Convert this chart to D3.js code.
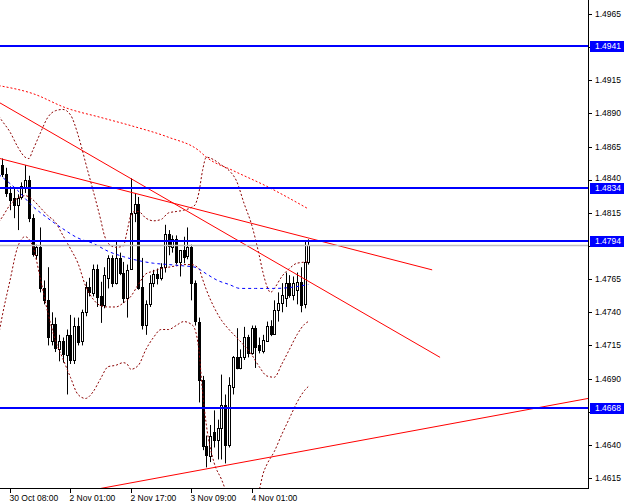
<!DOCTYPE html>
<html>
<head>
<meta charset="utf-8">
<script src="https://cdn.jsdelivr.net/npm/d3@7"></script>
<style>
  body { margin: 0; background: #fff; }
  svg { display: block; }
  text { font-family: "Liberation Sans", Arial, sans-serif; font-size: 8.5px; }
</style>
</head>
<body>
<div id="chart"></div>
<script>
// hourly bars
var open = [1.4851,1.4844,1.4830,1.4826,1.4821,1.4827,1.4834,1.4840,1.4811,1.4783,
  1.4789,1.4758,1.4749,1.4718,1.4731,1.4712,1.4718,1.4708,1.4723,1.4704,
  1.4730,1.4718,1.4740,1.4759,1.4755,1.4773,1.4752,1.4745,1.4766,1.4781,
  1.4762,1.4781,1.4770,1.4751,1.4773,1.4815,1.4822,1.4759,1.4730,1.4746,
  1.4762,1.4769,1.4766,1.4774,1.4799,1.4789,1.4795,1.4778,1.4787,1.4782,
  1.4789,1.4762,1.4733,1.4689,1.4639,1.4632,1.4650,1.4644,1.4653,1.4670,
  1.4640,1.4683,1.4706,1.4698,1.4706,1.4721,1.4709,1.4728,1.4715,1.4711,
  1.4719,1.4730,1.4724,1.4742,1.4747,1.4751,1.4762,1.4753,1.4757,1.4763,
  1.4746,1.4778];
var high = [1.4856,1.4849,1.4835,1.4834,1.4829,1.4838,1.4851,1.4843,1.4814,1.4791,
  1.4804,1.4764,1.4774,1.4740,1.4736,1.4723,1.4721,1.4727,1.4738,1.4736,
  1.4736,1.4742,1.4763,1.4766,1.4776,1.4776,1.4763,1.4774,1.4783,1.4783,
  1.4793,1.4785,1.4778,1.4776,1.4841,1.4830,1.4827,1.4781,1.4749,1.4768,
  1.4772,1.4773,1.4777,1.4806,1.4802,1.4798,1.4798,1.4787,1.4797,1.4804,
  1.4791,1.4764,1.4736,1.4692,1.4647,1.4655,1.4666,1.4659,1.4693,1.4678,
  1.4691,1.4707,1.4728,1.4712,1.4729,1.4723,1.4730,1.4730,1.4721,1.4723,
  1.4733,1.4734,1.4749,1.4755,1.4762,1.4770,1.4768,1.4767,1.4770,1.4774,
  1.4793,1.4795];
var low = [1.4842,1.4827,1.4817,1.4811,1.4802,1.4825,1.4830,1.4808,1.4782,1.4780,
  1.4755,1.4746,1.4715,1.4715,1.4710,1.4703,1.4702,1.4678,1.4701,1.4701,
  1.4715,1.4715,1.4737,1.4752,1.4752,1.4744,1.4732,1.4743,1.4758,1.4759,
  1.4761,1.4768,1.4747,1.4736,1.4772,1.4808,1.4757,1.4727,1.4723,1.4744,
  1.4759,1.4761,1.4764,1.4770,1.4783,1.4785,1.4776,1.4767,1.4777,1.4780,
  1.4749,1.4730,1.4672,1.4636,1.4623,1.4627,1.4638,1.4629,1.4629,1.4626,
  1.4638,1.4678,1.4697,1.4697,1.4704,1.4706,1.4708,1.4698,1.4709,1.4709,
  1.4718,1.4722,1.4723,1.4733,1.4740,1.4744,1.4751,1.4749,1.4746,1.4740,
  1.4743,1.4776];
var close = [1.4844,1.4830,1.4825,1.4821,1.4826,1.4835,1.4840,1.4811,1.4784,1.4789,
  1.4758,1.4749,1.4721,1.4731,1.4713,1.4718,1.4708,1.4723,1.4704,1.4730,
  1.4718,1.4740,1.4759,1.4755,1.4773,1.4752,1.4745,1.4768,1.4781,1.4762,
  1.4781,1.4770,1.4751,1.4772,1.4815,1.4822,1.4759,1.4730,1.4746,1.4762,
  1.4769,1.4766,1.4774,1.4799,1.4790,1.4795,1.4778,1.4787,1.4782,1.4789,
  1.4762,1.4733,1.4689,1.4639,1.4632,1.4647,1.4644,1.4653,1.4670,1.4640,
  1.4685,1.4706,1.4698,1.4706,1.4721,1.4709,1.4728,1.4714,1.4711,1.4719,
  1.4730,1.4724,1.4742,1.4747,1.4753,1.4762,1.4753,1.4762,1.4763,1.4746,
  1.4778,1.4791];

var timeLabels = ["30 Oct 08:00", "2 Nov 01:00", "2 Nov 17:00", "3 Nov 09:00", "4 Nov 01:00"];
var timeLabelBars = [2, 18, 34, 50, 66];

var priceTicks = [1.4965, 1.4940, 1.4915, 1.4890, 1.4865, 1.4840, 1.4815, 1.4790,
  1.4765, 1.4740, 1.4715, 1.4690, 1.4665, 1.4640, 1.4615];

var levels = [1.4941, 1.4834, 1.4794, 1.4668];

// bollinger bands (upper / middle / lower), sampled at bar numbers
var upperBars = [-1,0,2,4,6,7,8,10,12,14,16,18,20,21,22,24,26,27,28,30,32,33,34,35,36,38,40,42,44,46,
  48,50,51,52,53,54,56,58,60,62,64,66,68,69,70,71,72,74,76,78,81];
var upperVals = [1.4888,1.4884,1.4876,1.4865,1.4857,1.4856,1.4862,1.4875,1.4887,1.4892,
  1.4893,1.4889,1.4874,1.4864,1.4853,1.4832,1.4810,1.4798,1.4792,1.4789,
  1.4790,1.4801,1.4813,1.4816,1.4816,1.4811,1.4809,1.4810,1.4815,1.4816,
  1.4817,1.4819,1.4821,1.4830,1.4847,1.4857,1.4855,1.4851,1.4847,1.4839,
  1.4822,1.4806,1.4783,1.4770,1.4760,1.4755,1.4758,1.4767,1.4773,1.4777,1.4778];
var middleBars = [-1,0,2,4,6,8,10,12,14,16,18,20,22,24,26,28,30,32,34,36,38,40,42,44,46,48,50,52,53,54,
  56,58,60,62,64,66,68,70,72,74,76,78,80,81];
var middleVals = [1.4808,1.4812,1.4821,1.4826,1.4828,1.4825,1.4819,1.4813,1.4808,1.4798,
  1.4788,1.4777,1.4760,1.4750,1.4745,1.4744,1.4744,1.4747,1.4752,1.4761,
  1.4769,1.4771,1.4773,1.4774,1.4775,1.4776,1.4776,1.4773,1.4765,1.4757,
  1.4744,1.4734,1.4727,1.4721,1.4715,1.4708,1.4699,1.4692,1.4691,1.4701,
  1.4712,1.4723,1.4731,1.4733];
var lowerBars = [-1,0,2,4,6,8,10,12,14,16,18,20,22,24,26,28,30,32,33,34,36,38,40,42,44,46,48,50,51,52,
  53,54,56,58,60,62,64,66,68,69,70,72,74,76,78,80,81];
var lowerVals = [1.4723,1.4738,1.4764,1.4789,1.4797,1.4790,1.4766,1.4740,1.4719,1.4705,
  1.4691,1.4678,1.4675,1.4680,1.4690,1.4699,1.4700,1.4702,1.4701,1.4697,
  1.4700,1.4712,1.4721,1.4727,1.4727,1.4730,1.4733,1.4731,1.4727,1.4712,
  1.4680,1.4655,1.4627,1.4614,1.4600,1.4595,1.4595,1.4597,1.4606,1.4618,
  1.4625,1.4635,1.4648,1.4660,1.4672,1.4681,1.4684];

// slow moving average (blue) and the outer band (red)
var maBars = [-1,4,8,12,16,20,24,28,32,36,40,44,48,51,54,57,60,63,67,72,77,81];
var maVals = [1.4844,1.4832,1.4820,1.4811,1.4803,1.4796,1.4792,1.4786,1.4782,1.4779,
  1.4777,1.4776,1.4775,1.4774,1.4769,1.4764,1.4761,1.4758,1.4758,1.4758,1.4759,1.4761];
var outerBars = [-1,8,17,26,35,44,52,54,61,70,81];
var outerVals = [1.4911,1.4905,1.4894,1.4887,1.4880,1.4872,1.4862,1.4857,1.4847,1.4835,1.4818];

// trend lines: from (bar, price) to (bar, price)
var trendFromBar = [-0.7, -0.7, 25.8];
var trendFromPrice = [1.4898, 1.4856, 1.4607];
var trendToBar = [115.9, 113.8, 155.1];
var trendToPrice = [1.4706, 1.4772, 1.4675];

var width = 625, height = 503;
var plotW = 588, plotH = 488;

var svg = d3.select('#chart').append('svg')
  .attr('width', width)
  .attr('height', height);

svg.append('defs').append('clipPath').attr('id', 'plot')
  .append('rect').attr('width', plotW).attr('height', plotH);

var x = d3.scaleLinear().domain([0, 81]).range([2.45, 308.3]);
var y = d3.scaleLinear().domain([1.4615, 1.4965]).range([478, 14]);

var plot = svg.append('g').attr('clip-path', 'url(#plot)');

// candles
var bars = d3.range(open.length);
var cx = function(i) { return Math.round(x(i)) + 0.5; };

plot.append('g').selectAll('line')
  .data(bars)
  .enter().append('line')
  .attr('x1', cx).attr('x2', cx)
  .attr('y1', function(i) { return y(high[i]); })
  .attr('y2', function(i) { return y(low[i]); })
  .attr('stroke', '#000')
  .attr('stroke-width', 1);

plot.append('g').selectAll('rect')
  .data(bars)
  .enter().append('rect')
  .attr('x', function(i) { return cx(i) - 1; })
  .attr('width', 2)
  .attr('y', function(i) { return Math.round(y(Math.max(open[i], close[i]))) + 0.5; })
  .attr('height', function(i) {
    return Math.max(1, Math.round(Math.abs(y(open[i]) - y(close[i]))));
  })
  .attr('fill', function(i) { return close[i] >= open[i] ? '#fff' : '#000'; })
  .attr('stroke', '#000')
  .attr('stroke-width', 1);

// indicator lines
var curve = function(idx, vals, color, dash) {
  var pts = idx.map(function(b, k) { return [x(b), y(vals[k])]; });
  plot.append('path')
    .attr('d', d3.line().curve(d3.curveMonotoneX)(pts))
    .attr('fill', 'none')
    .attr('stroke', color)
    .attr('stroke-width', 1)
    .attr('stroke-dasharray', dash);
};

curve(outerBars, outerVals, '#ff0000', '2,2');
curve(upperBars, upperVals, '#8b0000', '2,2');
curve(middleBars, middleVals, '#8b0000', '2,2');
curve(lowerBars, lowerVals, '#8b0000', '2,2');
curve(maBars, maVals, '#0000ff', '3,3');

// trend lines
plot.append('g').selectAll('line')
  .data(trendFromBar)
  .enter().append('line')
  .attr('x1', function(d, i) { return x(trendFromBar[i]); })
  .attr('y1', function(d, i) { return y(trendFromPrice[i]); })
  .attr('x2', function(d, i) { return x(trendToBar[i]); })
  .attr('y2', function(d, i) { return y(trendToPrice[i]); })
  .attr('stroke', '#ff0000')
  .attr('stroke-width', 1);

// bid line and horizontal levels
var bid = close[close.length - 1];
plot.append('line')
  .attr('x1', 0).attr('x2', plotW)
  .attr('y1', Math.round(y(bid)) + 0.5).attr('y2', Math.round(y(bid)) + 0.5)
  .attr('stroke', '#c0c0c0')
  .attr('stroke-width', 1.5);

plot.append('g').selectAll('line')
  .data(levels)
  .enter().append('line')
  .attr('x1', 0).attr('x2', plotW)
  .attr('y1', function(d) { return Math.round(y(d)); })
  .attr('y2', function(d) { return Math.round(y(d)); })
  .attr('stroke', '#0000ff')
  .attr('stroke-width', 2);

// frame
svg.append('line')
  .attr('x1', plotW + 0.5).attr('x2', plotW + 0.5)
  .attr('y1', 0).attr('y2', plotH + 1)
  .attr('stroke', '#000');
svg.append('line')
  .attr('x1', 0).attr('x2', plotW + 1)
  .attr('y1', plotH + 0.5).attr('y2', plotH + 0.5)
  .attr('stroke', '#000');

// price scale: labels right under a level tag stay hidden, as in MT4;
// labels just next to a tag are nudged away from it
var gapToTag = function(d) {
  var best = 99;
  levels.forEach(function(l) {
    var g = y(l) - y(d);
    if (Math.abs(g) < Math.abs(best)) best = g;
  });
  return best;
};
var pt = svg.append('g').selectAll('g')
  .data(priceTicks)
  .enter().append('g')
  .attr('transform', function(d) { return 'translate(' + plotW + ',' + Math.round(y(d)) + ')'; });
pt.append('line')
  .attr('x1', 1).attr('x2', 4)
  .attr('y1', 0.5).attr('y2', 0.5)
  .attr('stroke', '#000');
pt.filter(function(d) { return Math.abs(gapToTag(d)) >= 6; }).append('text')
  .attr('x', 7)
  .attr('y', function(d) {
    var g = gapToTag(d);
    return Math.abs(g) < 12 ? (g > 0 ? -2 : 2) : 0;
  })
  .attr('dy', '0.35em')
  .text(function(d) { return d.toFixed(4); });

var tags = svg.append('g').selectAll('g')
  .data(levels)
  .enter().append('g')
  .attr('transform', function(d) { return 'translate(' + plotW + ',' + Math.round(y(d)) + ')'; });
tags.append('rect')
  .attr('x', 2).attr('y', -5)
  .attr('width', 34).attr('height', 11)
  .attr('fill', '#0000ff');
tags.append('text')
  .attr('x', 7)
  .attr('dy', '0.38em')
  .attr('fill', '#fff')
  .text(function(d) { return d.toFixed(4); });

// time scale
var tt = svg.append('g').selectAll('g')
  .data(timeLabelBars)
  .enter().append('g')
  .attr('transform', function(d) { return 'translate(' + cx(d) + ',' + plotH + ')'; });
tt.append('line')
  .attr('y1', 1).attr('y2', 5)
  .attr('stroke', '#000');
tt.append('text')
  .attr('x', -1)
  .attr('y', 13)
  .text(function(d, i) { return timeLabels[i]; });
</script>
</body>
</html>
